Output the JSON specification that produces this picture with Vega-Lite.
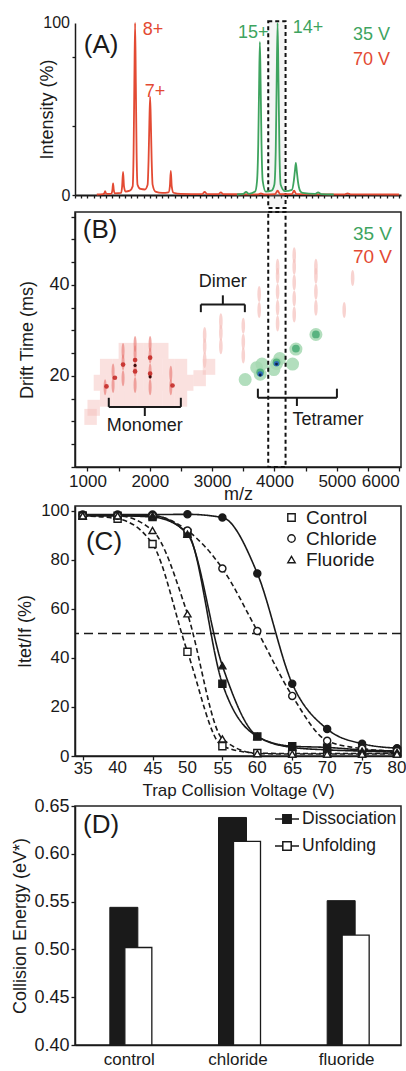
{
"$schema":"https://vega.github.io/schema/vega-lite/v6.json",
"background":"white",
"padding":{"top":15,"left":11,"right":0,"bottom":0},
"config":{
 "font":"Liberation Sans",
 "view":{"stroke":null},
 "axis":{"grid":false,"labelOverlap":false,"domainColor":"#1a1a1a","domainWidth":1.5,"tickColor":"#1a1a1a","tickWidth":1.3,"tickSize":4,"labelColor":"#1a1a1a","titleColor":"#1a1a1a","labelFontSize":16,"titleFontSize":18,"titleFontWeight":"normal","labelPadding":2},
 "legend":{"labelColor":"#1a1a1a","padding":0},
 "text":{"color":"#1a1a1a"}
},
"datasets":{
 "spec":[
  {"mz":1150,"i":0.3,"v":"70 V"},{"mz":1250,"i":0.5,"v":"70 V"},{"mz":1272,"i":1.2,"v":"70 V"},{"mz":1283,"i":2.2,"v":"70 V"},{"mz":1294,"i":1.2,"v":"70 V"},{"mz":1320,"i":0.6,"v":"70 V"},{"mz":1385,"i":0.8,"v":"70 V"},{"mz":1400,"i":3,"v":"70 V"},{"mz":1411,"i":6.8,"v":"70 V"},{"mz":1422,"i":3,"v":"70 V"},{"mz":1440,"i":1,"v":"70 V"},{"mz":1540,"i":1.2,"v":"70 V"},{"mz":1556,"i":5,"v":"70 V"},{"mz":1571,"i":13.5,"v":"70 V"},{"mz":1586,"i":5,"v":"70 V"},{"mz":1610,"i":2,"v":"70 V"},{"mz":1680,"i":2.5,"v":"70 V"},{"mz":1725,"i":5,"v":"70 V"},{"mz":1740,"i":25,"v":"70 V"},{"mz":1752,"i":65,"v":"70 V"},{"mz":1764,"i":100,"v":"70 V"},{"mz":1776,"i":65,"v":"70 V"},{"mz":1788,"i":25,"v":"70 V"},{"mz":1803,"i":6,"v":"70 V"},{"mz":1850,"i":3.5,"v":"70 V"},{"mz":1920,"i":3.2,"v":"70 V"},{"mz":1965,"i":6,"v":"70 V"},{"mz":1980,"i":20,"v":"70 V"},{"mz":1993,"i":42,"v":"70 V"},{"mz":2005,"i":57,"v":"70 V"},{"mz":2017,"i":42,"v":"70 V"},{"mz":2030,"i":20,"v":"70 V"},{"mz":2045,"i":6,"v":"70 V"},{"mz":2090,"i":2,"v":"70 V"},{"mz":2200,"i":1.2,"v":"70 V"},{"mz":2300,"i":1.5,"v":"70 V"},{"mz":2322,"i":5,"v":"70 V"},{"mz":2337,"i":14,"v":"70 V"},{"mz":2352,"i":5,"v":"70 V"},{"mz":2380,"i":1.3,"v":"70 V"},{"mz":2500,"i":0.6,"v":"70 V"},{"mz":2840,"i":0.5,"v":"70 V"},{"mz":2880,"i":1.8,"v":"70 V"},{"mz":2920,"i":0.5,"v":"70 V"},{"mz":3100,"i":0.5,"v":"70 V"},{"mz":3140,"i":1.5,"v":"70 V"},{"mz":3180,"i":0.5,"v":"70 V"},{"mz":3740,"i":0.4,"v":"70 V"},{"mz":3783,"i":0.9,"v":"70 V"},{"mz":3830,"i":0.4,"v":"70 V"},{"mz":4010,"i":0.5,"v":"70 V"},{"mz":4050,"i":2.5,"v":"70 V"},{"mz":4090,"i":0.5,"v":"70 V"},{"mz":4280,"i":0.5,"v":"70 V"},{"mz":4315,"i":2.5,"v":"70 V"},{"mz":4350,"i":0.5,"v":"70 V"},{"mz":5130,"i":0.4,"v":"70 V"},{"mz":5173,"i":0.9,"v":"70 V"},{"mz":5220,"i":0.4,"v":"70 V"},{"mz":6000,"i":0.3,"v":"70 V"},
  {"mz":3400,"i":0.3,"v":"35 V"},{"mz":3500,"i":0.6,"v":"35 V"},{"mz":3544,"i":1.8,"v":"35 V"},{"mz":3590,"i":0.7,"v":"35 V"},{"mz":3690,"i":2,"v":"35 V"},{"mz":3720,"i":8,"v":"35 V"},{"mz":3740,"i":30,"v":"35 V"},{"mz":3754,"i":65,"v":"35 V"},{"mz":3766,"i":89,"v":"35 V"},{"mz":3778,"i":65,"v":"35 V"},{"mz":3792,"i":30,"v":"35 V"},{"mz":3812,"i":8,"v":"35 V"},{"mz":3860,"i":2,"v":"35 V"},{"mz":3950,"i":2.5,"v":"35 V"},{"mz":3998,"i":6,"v":"35 V"},{"mz":4020,"i":25,"v":"35 V"},{"mz":4035,"i":65,"v":"35 V"},{"mz":4050,"i":100,"v":"35 V"},{"mz":4065,"i":65,"v":"35 V"},{"mz":4080,"i":25,"v":"35 V"},{"mz":4100,"i":6,"v":"35 V"},{"mz":4170,"i":2.2,"v":"35 V"},{"mz":4280,"i":3,"v":"35 V"},{"mz":4310,"i":8,"v":"35 V"},{"mz":4328,"i":14,"v":"35 V"},{"mz":4343,"i":18.6,"v":"35 V"},{"mz":4358,"i":14,"v":"35 V"},{"mz":4376,"i":8,"v":"35 V"},{"mz":4410,"i":2.5,"v":"35 V"},{"mz":4450,"i":1.2,"v":"35 V"},{"mz":4650,"i":0.6,"v":"35 V"},{"mz":4700,"i":1.5,"v":"35 V"},{"mz":4750,"i":0.5,"v":"35 V"},{"mz":4950,"i":0.3,"v":"35 V"}
 ],
 "annA":[
  {"mz":1888,"i":96,"t":"8+","v":"70 V"},{"mz":1920,"i":60,"t":"7+","v":"70 V"},{"mz":3413,"i":94.2,"t":"15+","v":"35 V"},{"mz":4295,"i":97,"t":"14+","v":"35 V"},{"mz":5258,"i":93,"t":"35 V","v":"35 V"},{"mz":5258,"i":78.5,"t":"70 V","v":"70 V"}
 ],
 "heat":[
  {"mz":1300,"dt":15,"lv":"c"},{"mz":1500,"dt":15,"lv":"c"},{"mz":1700,"dt":15,"lv":"c"},{"mz":1900,"dt":15,"lv":"c"},{"mz":2100,"dt":15,"lv":"c"},{"mz":2300,"dt":15,"lv":"c"},{"mz":2500,"dt":15,"lv":"c"},
  {"mz":1200,"dt":18.5,"lv":"c"},{"mz":1400,"dt":18.5,"lv":"c"},{"mz":1600,"dt":18.5,"lv":"c"},{"mz":1800,"dt":18.5,"lv":"c"},{"mz":2000,"dt":18.5,"lv":"c"},{"mz":2200,"dt":18.5,"lv":"c"},{"mz":2400,"dt":18.5,"lv":"c"},{"mz":2600,"dt":18.5,"lv":"c"},{"mz":2800,"dt":19.5,"lv":"c"},
  {"mz":1300,"dt":22,"lv":"c"},{"mz":1500,"dt":22,"lv":"c"},{"mz":1700,"dt":22,"lv":"c"},{"mz":1900,"dt":22,"lv":"c"},{"mz":2100,"dt":22,"lv":"c"},{"mz":2300,"dt":22,"lv":"c"},{"mz":2500,"dt":22,"lv":"c"},{"mz":2950,"dt":22,"lv":"c"},
  {"mz":1600,"dt":25.5,"lv":"c"},{"mz":1800,"dt":25.5,"lv":"c"},{"mz":2000,"dt":25.5,"lv":"c"},{"mz":2200,"dt":25.5,"lv":"c"},
  {"mz":1100,"dt":13,"lv":"c"},{"mz":1050,"dt":11,"lv":"c"},
  {"mz":1283,"dt":17.5,"lv":"s"},{"mz":1411,"dt":18,"lv":"s"},{"mz":1411,"dt":21,"lv":"s"},{"mz":1571,"dt":19.5,"lv":"s"},{"mz":1571,"dt":23,"lv":"s"},{"mz":1571,"dt":25.5,"lv":"s"},{"mz":1764,"dt":18,"lv":"s"},{"mz":1764,"dt":21.5,"lv":"s"},{"mz":1764,"dt":25,"lv":"s"},{"mz":1764,"dt":27,"lv":"s"},{"mz":2005,"dt":17.5,"lv":"s"},{"mz":2005,"dt":21,"lv":"s"},{"mz":2005,"dt":24.5,"lv":"s"},{"mz":2005,"dt":27,"lv":"s"},{"mz":2337,"dt":17.5,"lv":"s"},{"mz":2337,"dt":20.5,"lv":"s"},
  {"mz":2880,"dt":23.5,"lv":"l"},{"mz":2880,"dt":26.5,"lv":"l"},{"mz":2880,"dt":29,"lv":"l"},{"mz":3140,"dt":26.5,"lv":"l"},{"mz":3140,"dt":29.5,"lv":"l"},{"mz":3140,"dt":32,"lv":"l"},{"mz":3500,"dt":24.5,"lv":"l"},{"mz":3500,"dt":27.5,"lv":"l"},{"mz":3500,"dt":31,"lv":"l"},{"mz":3755,"dt":34.5,"lv":"l"},{"mz":3755,"dt":38,"lv":"l"},{"mz":4050,"dt":31.5,"lv":"l"},{"mz":4050,"dt":35,"lv":"l"},{"mz":4050,"dt":38.5,"lv":"l"},{"mz":4050,"dt":42,"lv":"l"},{"mz":4050,"dt":44,"lv":"l"},{"mz":4317,"dt":33.5,"lv":"l"},{"mz":4317,"dt":37,"lv":"l"},{"mz":4317,"dt":40.5,"lv":"l"},{"mz":4317,"dt":44,"lv":"l"},{"mz":4317,"dt":46.5,"lv":"l"},{"mz":4665,"dt":35,"lv":"l"},{"mz":4665,"dt":38.5,"lv":"l"},{"mz":4665,"dt":42,"lv":"l"},{"mz":4665,"dt":44,"lv":"l"},{"mz":5119,"dt":34.5,"lv":"l"},{"mz":5254,"dt":41.5,"lv":"l"},
  {"mz":1764,"dt":23.5,"lv":"k"},{"mz":1764,"dt":21,"lv":"k"},{"mz":2005,"dt":20.5,"lv":"k"},{"mz":2005,"dt":24,"lv":"k"},{"mz":1571,"dt":22.5,"lv":"k"},{"mz":1440,"dt":19.6,"lv":"k"},{"mz":2364,"dt":17.9,"lv":"k"},{"mz":1305,"dt":17.7,"lv":"k"},
  {"mz":1764,"dt":22.3,"lv":"d"},{"mz":2005,"dt":19.8,"lv":"d"},
  {"mz":3771,"dt":20.4,"lv":"g"},{"mz":3715,"dt":21.8,"lv":"g"},{"mz":3800,"dt":22.6,"lv":"g"},{"mz":4033,"dt":22.7,"lv":"g"},{"mz":4085,"dt":23.8,"lv":"g"},{"mz":3990,"dt":21.4,"lv":"g"},{"mz":4344,"dt":25.9,"lv":"g"},{"mz":4290,"dt":22.6,"lv":"g"},{"mz":4665,"dt":29.1,"lv":"g"},{"mz":3530,"dt":19.2,"lv":"g"},
  {"mz":3771,"dt":20.8,"lv":"m"},{"mz":4033,"dt":23,"lv":"m"},{"mz":4344,"dt":26,"lv":"m"},{"mz":4665,"dt":29.1,"lv":"m"},
  {"mz":3771,"dt":20.4,"lv":"b"},{"mz":4033,"dt":22.7,"lv":"b"},
  {"mz":3771,"dt":20.2,"lv":"n"},{"mz":4033,"dt":22.6,"lv":"n"}
 ],
 "brk":[
  {"mz":1342,"mz2":2498,"dt":13.2,"dt2":13.2},{"mz":1342,"mz2":1342,"dt":13.2,"dt2":15.2},{"mz":2498,"mz2":2498,"dt":13.2,"dt2":15.2},{"mz":1920,"mz2":1920,"dt":13.2,"dt2":11.2},
  {"mz":2819,"mz2":3525,"dt":35.7,"dt2":35.7},{"mz":2819,"mz2":2819,"dt":35.7,"dt2":34.0},{"mz":3525,"mz2":3525,"dt":35.7,"dt2":34.0},{"mz":3172,"mz2":3172,"dt":35.7,"dt2":37.7},
  {"mz":3734,"mz2":5002,"dt":15.2,"dt2":15.2},{"mz":3734,"mz2":3734,"dt":15.2,"dt2":17.2},{"mz":5002,"mz2":5002,"dt":15.2,"dt2":17.2},{"mz":4360,"mz2":4360,"dt":15.2,"dt2":13.4}
 ],
 "trap":[
  {"v":35,"p":98,"c":"Control","t":"Dissociation"},{"v":40,"p":98,"c":"Control","t":"Dissociation"},{"v":45,"p":97.5,"c":"Control","t":"Dissociation"},{"v":50,"p":91,"c":"Control","t":"Dissociation"},{"v":55,"p":29.5,"c":"Control","t":"Dissociation"},{"v":60,"p":8,"c":"Control","t":"Dissociation"},{"v":65,"p":4,"c":"Control","t":"Dissociation"},{"v":70,"p":3.5,"c":"Control","t":"Dissociation"},{"v":75,"p":2.5,"c":"Control","t":"Dissociation"},{"v":80,"p":2,"c":"Control","t":"Dissociation"},
  {"v":35,"p":98,"c":"Control","t":"Unfolding"},{"v":40,"p":96.8,"c":"Control","t":"Unfolding"},{"v":45,"p":86.5,"c":"Control","t":"Unfolding"},{"v":50,"p":42.5,"c":"Control","t":"Unfolding"},{"v":55,"p":4,"c":"Control","t":"Unfolding"},{"v":60,"p":1.2,"c":"Control","t":"Unfolding"},{"v":65,"p":1,"c":"Control","t":"Unfolding"},{"v":70,"p":1,"c":"Control","t":"Unfolding"},{"v":75,"p":1,"c":"Control","t":"Unfolding"},{"v":80,"p":1,"c":"Control","t":"Unfolding"},
  {"v":35,"p":98.5,"c":"Chloride","t":"Dissociation"},{"v":40,"p":98.5,"c":"Chloride","t":"Dissociation"},{"v":45,"p":98.5,"c":"Chloride","t":"Dissociation"},{"v":50,"p":98.6,"c":"Chloride","t":"Dissociation"},{"v":55,"p":97.3,"c":"Chloride","t":"Dissociation"},{"v":60,"p":74.5,"c":"Chloride","t":"Dissociation"},{"v":65,"p":29.5,"c":"Chloride","t":"Dissociation"},{"v":70,"p":11,"c":"Chloride","t":"Dissociation"},{"v":75,"p":5,"c":"Chloride","t":"Dissociation"},{"v":80,"p":3.2,"c":"Chloride","t":"Dissociation"},
  {"v":35,"p":98,"c":"Chloride","t":"Unfolding"},{"v":40,"p":98,"c":"Chloride","t":"Unfolding"},{"v":45,"p":98,"c":"Chloride","t":"Unfolding"},{"v":50,"p":92,"c":"Chloride","t":"Unfolding"},{"v":55,"p":76.5,"c":"Chloride","t":"Unfolding"},{"v":60,"p":51,"c":"Chloride","t":"Unfolding"},{"v":65,"p":24.5,"c":"Chloride","t":"Unfolding"},{"v":70,"p":6.2,"c":"Chloride","t":"Unfolding"},{"v":75,"p":3,"c":"Chloride","t":"Unfolding"},{"v":80,"p":2,"c":"Chloride","t":"Unfolding"},
  {"v":35,"p":98,"c":"Fluoride","t":"Dissociation"},{"v":40,"p":98,"c":"Fluoride","t":"Dissociation"},{"v":45,"p":98,"c":"Fluoride","t":"Dissociation"},{"v":50,"p":90.5,"c":"Fluoride","t":"Dissociation"},{"v":55,"p":36.8,"c":"Fluoride","t":"Dissociation"},{"v":60,"p":8,"c":"Fluoride","t":"Dissociation"},{"v":65,"p":3.5,"c":"Fluoride","t":"Dissociation"},{"v":70,"p":2.5,"c":"Fluoride","t":"Dissociation"},{"v":75,"p":2,"c":"Fluoride","t":"Dissociation"},{"v":80,"p":1.5,"c":"Fluoride","t":"Dissociation"},
  {"v":35,"p":98,"c":"Fluoride","t":"Unfolding"},{"v":40,"p":98,"c":"Fluoride","t":"Unfolding"},{"v":45,"p":92,"c":"Fluoride","t":"Unfolding"},{"v":50,"p":58,"c":"Fluoride","t":"Unfolding"},{"v":55,"p":7,"c":"Fluoride","t":"Unfolding"},{"v":60,"p":1,"c":"Fluoride","t":"Unfolding"},{"v":65,"p":0.8,"c":"Fluoride","t":"Unfolding"},{"v":70,"p":0.8,"c":"Fluoride","t":"Unfolding"},{"v":75,"p":0.8,"c":"Fluoride","t":"Unfolding"},{"v":80,"p":0.8,"c":"Fluoride","t":"Unfolding"}
 ],
 "ce":[
  {"cat":"control","t":"Dissociation","e":0.544},{"cat":"control","t":"Unfolding","e":0.502},
  {"cat":"chloride","t":"Dissociation","e":0.638},{"cat":"chloride","t":"Unfolding","e":0.613},
  {"cat":"fluoride","t":"Dissociation","e":0.551},{"cat":"fluoride","t":"Unfolding","e":0.515}
 ]
},
"resolve":{"scale":{"fill":"independent","shape":"independent","color":"independent","strokeDash":"independent"},"legend":{"fill":"independent","shape":"independent","color":"independent","strokeDash":"independent"}},
"spacing":-3,
"vconcat":[
   {"width":326,"height":172,
    "view":{"stroke":null},
    "layer":[
     {"data":{"values":[{"mz":3900,"mz2":4178,"i":-7.5,"i2":101}]},
      "mark":{"type":"rect","fill":"#cfcfcf","fillOpacity":0.2,"stroke":"#111","strokeWidth":2,"strokeDash":[4,3]},
      "encoding":{
       "x":{"field":"mz","type":"quantitative","scale":{"domain":[800,6030],"nice":false},"axis":{"title":null,"labels":false,"tickCount":50,"tickSize":3,"domainWidth":2}},
       "x2":{"field":"mz2"},
       "y":{"field":"i","type":"quantitative","scale":{"domain":[0,100],"nice":false},"axis":{"title":"Intensity (%)","values":[0,10,20,30,40,50,60,70,80,90,100],"labelExpr":"datum.value==0||datum.value==100?datum.label:''","labelOverlap":false,"tickSize":3,"titlePadding":5}},
       "y2":{"field":"i2"}}},
     {"data":{"name":"spec"},
      "mark":{"type":"line","interpolate":"monotone","strokeWidth":1.8},
      "encoding":{"x":{"field":"mz","type":"quantitative"},"y":{"field":"i","type":"quantitative"},
       "color":{"field":"v","type":"nominal","scale":{"domain":["35 V","70 V"],"range":["#3ea45f","#e34a33"]},"legend":null}}},
     {"data":{"name":"annA"},
      "mark":{"type":"text","align":"left","baseline":"middle","fontSize":18},
      "encoding":{"x":{"field":"mz","type":"quantitative"},"y":{"field":"i","type":"quantitative"},"text":{"field":"t"},
       "color":{"field":"v","type":"nominal","legend":null}}},
     {"data":{"values":[{"mz":940,"i":87.2,"t":"(A)"}]},
      "mark":{"type":"text","align":"left","baseline":"middle","fontSize":26,"color":"#1a1a1a"},
      "encoding":{"x":{"field":"mz","type":"quantitative"},"y":{"field":"i","type":"quantitative"},"text":{"field":"t"}}},
     {"data":{"values":[{"mz":720,"i":100,"t":"100"}]},
      "mark":{"type":"text","align":"right","baseline":"middle","fontSize":16,"color":"#1a1a1a"},
      "encoding":{"x":{"field":"mz","type":"quantitative"},"y":{"field":"i","type":"quantitative"},"text":{"field":"t"}}}
    ]},
   {"width":326,"height":255,
    "view":{"stroke":"#222","strokeWidth":1.5},
    "encoding":{
     "x":{"field":"mz","type":"quantitative","scale":{"domain":[800,6030],"nice":false},"axis":{"title":"m/z","values":[1000,1500,2000,2500,3000,3500,4000,4500,5000,5500,6000],"format":"d","labelExpr":"datum.value%1000==0?datum.label:''","labelOverlap":false,"labelFlush":3,"labelFontSize":17,"titlePadding":-4}},
     "y":{"field":"dt","type":"quantitative","scale":{"domain":[0,56],"nice":false},"axis":{"title":"Drift Time (ms)","values":[0,5,10,15,20,25,30,35,40,45,50,55],"labelExpr":"datum.value==20||datum.value==40?datum.label:''","labelOverlap":false,"labelFontSize":18,"titlePadding":12}}
    },
    "layer":[
     {"data":{"name":"heat"},"transform":[{"filter":"datum.lv=='c'"}],"mark":{"type":"point","filled":true,"shape":"M-0.78,-1H0.78V1H-0.78Z","size":256,"color":"#f4bcb8","opacity":0.45}},
     {"data":{"name":"heat"},"transform":[{"filter":"datum.lv=='s'"}],"mark":{"type":"point","filled":true,"shape":"M0,-1C0.25,-1 0.25,1 0,1C-0.25,1 -0.25,-1 0,-1Z","size":256,"color":"#e9837d","opacity":0.7}},
     {"data":{"name":"heat"},"transform":[{"filter":"datum.lv=='l'"}],"mark":{"type":"point","filled":true,"shape":"M0,-1C0.3,-1 0.3,1 0,1C-0.3,1 -0.3,-1 0,-1Z","size":256,"color":"#f6c4c0","opacity":0.75}},
     {"data":{"name":"heat"},"transform":[{"filter":"datum.lv=='k'"}],"mark":{"type":"point","filled":true,"shape":"circle","size":22,"color":"#c42b28","opacity":0.9}},
     {"data":{"name":"heat"},"transform":[{"filter":"datum.lv=='d'"}],"mark":{"type":"point","filled":true,"shape":"circle","size":10,"color":"#3b0b0b","opacity":1}},
     {"data":{"name":"heat"},"transform":[{"filter":"datum.lv=='g'"}],"mark":{"type":"point","filled":true,"shape":"circle","size":170,"color":"#a5d8b2","opacity":0.85}},
     {"data":{"name":"heat"},"transform":[{"filter":"datum.lv=='m'"}],"mark":{"type":"point","filled":true,"shape":"circle","size":60,"color":"#4fae79","opacity":0.9}},
     {"data":{"name":"heat"},"transform":[{"filter":"datum.lv=='b'"}],"mark":{"type":"point","filled":true,"shape":"circle","size":30,"color":"#2d6db5","opacity":1}},
     {"data":{"name":"heat"},"transform":[{"filter":"datum.lv=='n'"}],"mark":{"type":"point","filled":true,"shape":"circle","size":8,"color":"#0c1f47","opacity":1}},
     {"data":{"values":[{"mz":3900,"mz2":4178,"dt":0,"dt2":56}]},
      "mark":{"type":"rect","fill":null,"stroke":"#111","strokeWidth":2,"strokeDash":[4,3]},
      "encoding":{"x2":{"field":"mz2"},"y2":{"field":"dt2"}}},
     {"data":{"name":"brk"},"mark":{"type":"rule","color":"#1a1a1a","strokeWidth":2},
      "encoding":{"x2":{"field":"mz2"},"y2":{"field":"dt2"}}},
     {"data":{"values":[{"mz":5258,"dt":51.2,"t":"35 V","v":"35 V"},{"mz":5258,"dt":46.1,"t":"70 V","v":"70 V"}]},
      "mark":{"type":"text","align":"left","baseline":"middle","fontSize":19},
      "encoding":{"text":{"field":"t"},"color":{"field":"v","type":"nominal","scale":{"domain":["35 V","70 V"],"range":["#3ea45f","#e34a33"]},"legend":null}}},
     {"data":{"values":[{"mz":3172,"dt":40.6,"t":"Dimer"},{"mz":1920,"dt":9.0,"t":"Monomer"},{"mz":4857,"dt":10.4,"t":"Tetramer"}]},
      "mark":{"type":"text","align":"center","baseline":"middle","fontSize":18,"color":"#1a1a1a"},
      "encoding":{"text":{"field":"t"}}},
     {"data":{"values":[{"mz":925,"dt":52.1,"t":"(B)"}]},
      "mark":{"type":"text","align":"left","baseline":"middle","fontSize":26,"color":"#1a1a1a"},
      "encoding":{"text":{"field":"t"}}}
    ]},
 {"width":326,"height":250,
  "view":{"stroke":"#222","strokeWidth":1.5},
  "layer":[
   {"data":{"values":[{"p":50}]},
    "mark":{"type":"rule","strokeDash":[9,5],"strokeWidth":1.5,"color":"#1a1a1a"},
    "encoding":{"y":{"field":"p","type":"quantitative","scale":{"domain":[0,102],"nice":false},"axis":{"title":"Itet/If (%)","values":[0,20,40,60,80,100],"labelOverlap":false,"labelFontSize":17,"titlePadding":6}}}},
   {"data":{"name":"trap"},
    "mark":{"type":"line","interpolate":"monotone","strokeWidth":1.6,"color":"#1a1a1a"},
    "encoding":{
     "x":{"field":"v","type":"quantitative","scale":{"domain":[33.9,80.57],"nice":false},"axis":{"title":"Trap Collision Voltage (V)","values":[35,40,45,50,55,60,65,70,75,80],"labelOverlap":false,"labelFlush":false,"labelFontSize":17,"labelPadding":0,"titlePadding":6,"titleFontSize":17}},
     "y":{"field":"p","type":"quantitative"},
     "detail":{"field":"c"},
     "strokeDash":{"field":"t","type":"nominal","scale":{"domain":["Dissociation","Unfolding"],"range":[[1,0],[5,3]]},"legend":null}}},
   {"data":{"name":"trap"},
    "mark":{"type":"point","filled":true,"size":50,"stroke":"#1a1a1a","strokeWidth":1.4,"opacity":1},
    "encoding":{
     "x":{"field":"v","type":"quantitative"},
     "y":{"field":"p","type":"quantitative"},
     "shape":{"field":"c","type":"nominal","scale":{"domain":["Control","Chloride","Fluoride"],"range":["square","circle","triangle-up"]},
      "legend":{"title":null,"orient":"none","legendX":207,"legendY":2,"symbolFillColor":"#ffffff","symbolStrokeColor":"#1a1a1a","symbolStrokeWidth":1.4,"symbolSize":55,"labelFontSize":19,"labelOffset":5,"rowPadding":1}},
     "fill":{"field":"t","type":"nominal","scale":{"domain":["Dissociation","Unfolding"],"range":["#1a1a1a","#ffffff"]},"legend":null}}},
   {"data":{"values":[{"v":35.47,"p":87.2,"t":"(C)"}]},
    "mark":{"type":"text","align":"left","baseline":"middle","fontSize":26,"color":"#1a1a1a"},
    "encoding":{"x":{"field":"v","type":"quantitative"},"y":{"field":"p","type":"quantitative"},"text":{"field":"t"}}},
   {"data":{"values":[{"v":40,"p":-1.63,"t":"40"},{"v":50,"p":-1.63,"t":"50"},{"v":60,"p":-1.63,"t":"60"},{"v":70,"p":-1.63,"t":"70"},{"v":80,"p":-1.63,"t":"80"}]},
    "mark":{"type":"text","align":"center","baseline":"top","fontSize":17,"color":"#1a1a1a"},
    "encoding":{"x":{"field":"v","type":"quantitative"},"y":{"field":"p","type":"quantitative"},"text":{"field":"t"}}}
  ]},
 {"width":326,"height":239,
  "view":{"stroke":"#222","strokeWidth":1.5},
  "layer":[
   {"data":{"name":"ce"},"transform":[{"filter":"datum.t=='Dissociation'"}],
    "mark":{"type":"bar","width":28,"xOffset":-5.5,"stroke":"#1a1a1a","strokeWidth":1},
    "encoding":{
     "x":{"field":"cat","type":"nominal","sort":["control","chloride","fluoride"],"scale":{"paddingInner":0,"paddingOuter":0},"axis":{"title":null,"labelAngle":0,"ticks":false,"labelFontSize":17,"labelPadding":6}},
     "y":{"field":"e","type":"quantitative","scale":{"domain":[0.4,0.65],"nice":false,"zero":false},"axis":{"title":"Collision Energy (eV*)","values":[0.4,0.45,0.5,0.55,0.6,0.65],"format":".2f","labelOverlap":false,"labelFontSize":18,"titlePadding":4}},
     "y2":{"datum":0.4},
     "fill":{"field":"t","type":"nominal","scale":{"domain":["Dissociation","Unfolding"],"range":["#1a1a1a","#ffffff"]},
      "legend":{"title":null,"orient":"none","legendX":199,"legendY":0,"symbolType":"M-1,0H-0.35M0.35,0H1M-0.35,-0.35H0.35V0.35H-0.35Z","symbolSize":576,"symbolStrokeColor":"#1a1a1a","symbolStrokeWidth":1.5,"labelFontSize":17.5,"labelOffset":2,"rowPadding":5}}}},
   {"data":{"name":"ce"},"transform":[{"filter":"datum.t=='Unfolding'"}],
    "mark":{"type":"bar","width":27,"xOffset":9,"stroke":"#1a1a1a","strokeWidth":1.3},
    "encoding":{
     "x":{"field":"cat","type":"nominal","sort":["control","chloride","fluoride"]},
     "y":{"field":"e","type":"quantitative"},
     "y2":{"datum":0.4},
     "fill":{"field":"t","type":"nominal"}}},
   {"data":{"values":[{"cat":"control","e":0.63,"t":"(D)"}]},
    "mark":{"type":"text","align":"left","baseline":"middle","fontSize":26,"dx":8,"color":"#1a1a1a"},
    "encoding":{"x":{"field":"cat","type":"nominal","bandPosition":0,"sort":["control","chloride","fluoride"]},"y":{"field":"e","type":"quantitative"},"text":{"field":"t"}}}
  ]}
]
}
